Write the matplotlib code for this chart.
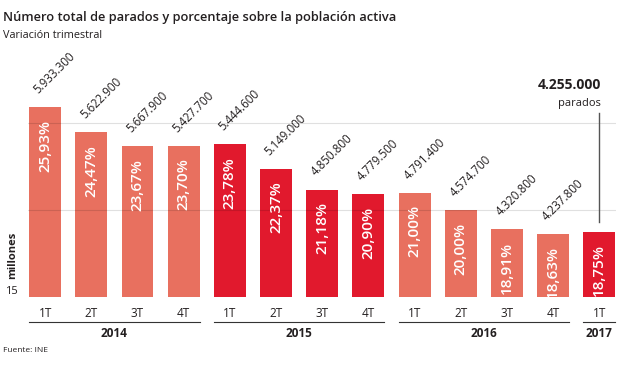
import numpy as np
import matplotlib
matplotlib.use("Agg")
import matplotlib.pyplot as plt

# data
quarters = ["1T", "2T", "3T", "4T", "1T", "2T", "3T", "4T", "1T", "2T", "3T", "4T", "1T"]
years = ["2014", "2015", "2016", "2017"]
year_sizes = [4, 4, 4, 1]
rates = [25.93, 24.47, 23.67, 23.70, 23.78, 22.37, 21.18, 20.90, 21.00, 20.00, 18.91, 18.63, 18.75]
parados = ["5.933.300", "5.622.900", "5.667.900", "5.427.700", "5.444.600", "5.149.000",
           "4.850.800", "4.779.500", "4.791.400", "4.574.700", "4.320.800", "4.237.800", "4.255.000"]

SALMON = "#E8705F"
RED = "#E1192D"
TXT = "#231F20"

plt.rcParams["font.family"] = ["Open Sans", "DejaVu Sans"]

fig = plt.figure(figsize=(6.2, 3.65), dpi=100)
ax = fig.add_axes([28 / 620, 68 / 365, 588 / 620, 237 / 365])

x = np.arange(len(rates))
colors = []
for i, n in enumerate(year_sizes):
    colors += [SALMON if i % 2 == 0 else RED] * n

ax.bar(x, np.array(rates) - 15, bottom=15, width=0.69, color=colors, zorder=2)
ax.set_xlim(-0.37, len(rates) - 1 + 0.36)
ax.set_ylim(15, 28.64)

# gridlines on top of the bars
for g in [20, 25]:
    ax.axhline(g, color="black", alpha=0.12, lw=0.8, zorder=3)

for s in ax.spines.values():
    s.set_visible(False)
ax.set_yticks([])
ax.set_xticks(x)
ax.set_xticklabels(quarters, fontsize=8.5, color=TXT)
ax.tick_params(axis="x", length=0, pad=7)

# percentage inside bars
for xi, r in zip(x, rates):
    ax.annotate(f"{r:.2f}%".replace(".", ","), (xi, r), xytext=(0, -9),
                textcoords="offset points", rotation=90, ha="center", va="top",
                color="white", fontsize=11, fontweight="semibold", zorder=4)

# number of unemployed, rotated above bars (last one is annotated separately)
for xi, r, p in zip(x[:-1], rates[:-1], parados[:-1]):
    ax.annotate(p, (xi, r), xytext=(-3, 8), textcoords="offset points",
                rotation=45, rotation_mode="anchor", ha="left", va="bottom",
                color=TXT, fontsize=8.3)

# callout for the latest quarter
xl, rl = x[-1], rates[-1]
ax.plot([xl, xl], [rl + 0.55, rl + 6.85], color="#555555", lw=1, zorder=3)
ax.annotate(parados[-1], (xl, rl + 6.85), xytext=(1, 15), textcoords="offset points",
            ha="right", va="bottom", fontsize=10, fontweight="bold", color=TXT)
ax.annotate("parados", (xl, rl + 6.85), xytext=(1, 3), textcoords="offset points",
            ha="right", va="bottom", fontsize=8, color=TXT)

# year group lines and labels
trans = ax.get_xaxis_transform()
start = 0
for yr, n in zip(years, year_sizes):
    left = start - 0.345
    right = start + n - 1 + 0.345
    ax.plot([left, right], [-0.106, -0.106], transform=trans, color="#333333",
            lw=0.8, clip_on=False)
    ax.text((left + right) / 2, -0.152, yr, transform=trans, ha="center", va="center",
            fontsize=8.5, fontweight="bold", color=TXT)
    start += n

fig.text(3 / 620, 1 - 18 / 365, "Número total de parados y porcentaje sobre la población activa",
         fontsize=9.3, fontweight="semibold", color=TXT, va="center")
fig.text(3 / 620, 1 - 36 / 365, "Variación trimestral", fontsize=7.8, color=TXT, va="center")
fig.text(3 / 620, 1 - 351 / 365, "Fuente: INE", fontsize=6, color=TXT, va="center")
fig.text(13 / 620, 1 - 255 / 365, "millones", rotation=90, fontsize=8, fontweight="bold",
         color=TXT, ha="center", va="center")
fig.text(11 / 620, 1 - 292 / 365, "15", fontsize=8, color=TXT, ha="center", va="center")

fig.savefig("out.png", dpi=100)
